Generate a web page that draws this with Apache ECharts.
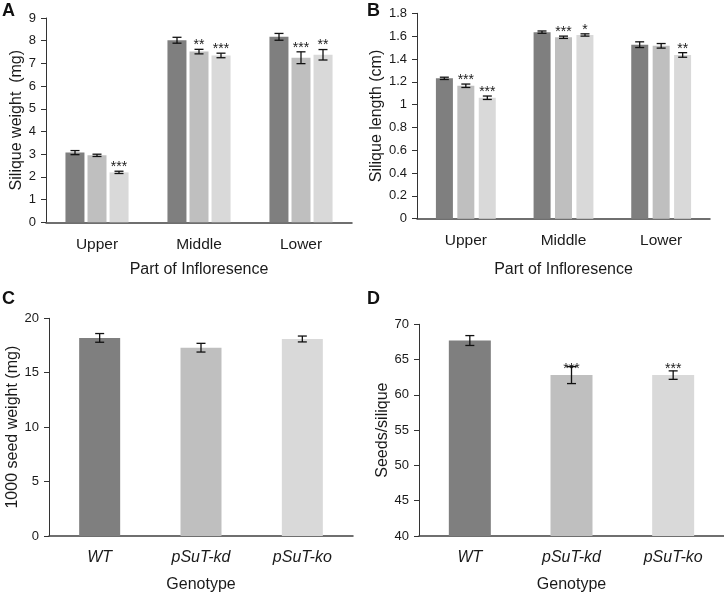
<!DOCTYPE html>
<html><head><meta charset="utf-8">
<script src="https://cdn.jsdelivr.net/npm/echarts@6/dist/echarts.min.js"></script>
<style>html,body{margin:0;padding:0;background:#fff}#c{width:724px;height:594px}</style>
</head><body><div id="c"></div>
<script>
// ---------- data ----------
const partCategories = ['Upper', 'Middle', 'Lower'];
const genotypeCategories = ['WT', 'pSuT-kd', 'pSuT-ko'];

// Panel A: silique weight (mg)
const weightWT = [3.07, 8.02, 8.17];
const weightKd = [2.95, 7.52, 7.25];
const weightKo = [2.20, 7.35, 7.38];
const weightErrWT = [0.09, 0.13, 0.15];
const weightErrKd = [0.05, 0.10, 0.26];
const weightErrKo = [0.05, 0.10, 0.23];
const weightStarsWT = ['', '', ''];
const weightStarsKd = ['', '**', '***'];
const weightStarsKo = ['***', '***', '**'];

// Panel B: silique length (cm)
const lengthWT = [1.23, 1.635, 1.525];
const lengthKd = [1.165, 1.59, 1.515];
const lengthKo = [1.06, 1.61, 1.435];
const lengthErrWT = [0.01, 0.01, 0.025];
const lengthErrKd = [0.015, 0.01, 0.02];
const lengthErrKo = [0.015, 0.01, 0.02];
const lengthStarsWT = ['', '', ''];
const lengthStarsKd = ['***', '***', ''];
const lengthStarsKo = ['***', '*', '**'];

// Panel C: 1000 seed weight (mg)
const seedWeight = [18.2, 17.3, 18.1];
const seedWeightErr = [0.4, 0.4, 0.27];
const seedWeightStars = ['', '', ''];

// Panel D: seeds per silique
const seedsPerSilique = [67.7, 62.8, 62.8];
const seedsErr = [0.7, 1.2, 0.6];
const seedsStars = ['', '***', '***'];

// ---------- styling ----------
const FONT = 'Liberation Sans, Arial, sans-serif';
const TXT = '#1a1a1a';
const C_WT = '#7f7f7f', C_KD = '#bfbfbf', C_KO = '#d9d9d9';

function errSeries(xi, yi, means, errs, stars, offset, starMode) {
  return {
    type: 'custom', xAxisIndex: xi, yAxisIndex: yi, z: 5, silent: true,
    data: means.map((m, i) => [i, m, errs[i]]),
    renderItem: function (params, api) {
      const idx = api.value(0), m = api.value(1), e = api.value(2);
      const cx = api.coord([idx, m])[0] + offset;
      const top = api.coord([idx, m + e])[1];
      const bot = api.coord([idx, m - e])[1];
      const barTop = api.coord([idx, m])[1];
      const cap = 4.5;
      const st = { stroke: '#111', lineWidth: 1.3 };
      const children = [
        { type: 'line', shape: { x1: cx, y1: top, x2: cx, y2: bot }, style: st },
        { type: 'line', shape: { x1: cx - cap, y1: top, x2: cx + cap, y2: top }, style: st },
        { type: 'line', shape: { x1: cx - cap, y1: bot, x2: cx + cap, y2: bot }, style: st }
      ];
      const s = stars[params.dataIndex];
      if (s) {
        const y = starMode === 'bar' ? barTop + 1 : top + 3;
        children.push({ type: 'text', style: { text: s, x: cx, y: y, align: 'center', verticalAlign: 'bottom', font: '14px ' + FONT, fill: TXT } });
      }
      return { type: 'group', children: children };
    }
  };
}

function yAxis(gi, min, max, interval, name, gap) {
  return {
    type: 'value', gridIndex: gi, min: min, max: max, interval: interval,
    name: name, nameLocation: 'middle', nameGap: gap,
    nameTextStyle: { fontFamily: FONT, fontSize: 16, color: TXT },
    axisLine: { show: true, lineStyle: { color: '#333', width: 1 } },
    axisTick: { show: true, length: 5, lineStyle: { color: '#333' } },
    splitLine: { show: false },
    axisLabel: { fontFamily: FONT, fontSize: 13, color: TXT, margin: 10 }
  };
}
function xAxis(gi, cats, name, italic, gap) {
  return {
    type: 'category', gridIndex: gi, data: cats,
    name: name, nameLocation: 'middle', nameGap: gap,
    nameTextStyle: { fontFamily: FONT, fontSize: 16, color: TXT },
    axisLine: { show: true, lineStyle: { color: '#404040', width: 1.5 } },
    axisTick: { show: false },
    axisLabel: { fontFamily: FONT, fontSize: italic ? 16 : 15.5, color: TXT, margin: 14, fontStyle: italic ? 'italic' : 'normal' }
  };
}
function bar(xi, yi, data, color, bw, gap) {
  return { type: 'bar', xAxisIndex: xi, yAxisIndex: yi, data: data, barWidth: bw, barGap: gap,
    itemStyle: { color: color }, silent: true };
}

const option = {
  animation: false,
  backgroundColor: '#fff',
  textStyle: { fontFamily: FONT },
  grid: [
    { left: 46, top: 18, width: 306, height: 204.3 },
    { left: 417, top: 13.3, width: 293, height: 205.4 },
    { left: 49, top: 318.3, width: 304, height: 219.4 },
    { left: 419, top: 324.3, width: 305, height: 213.4 }
  ],
  xAxis: [
    xAxis(0, partCategories, 'Part of Infloresence', false, 39.5),
    xAxis(1, partCategories, 'Part of Infloresence', false, 43),
    xAxis(2, genotypeCategories, 'Genotype', true, 41),
    xAxis(3, genotypeCategories, 'Genotype', true, 41)
  ],
  yAxis: [
    yAxis(0, 0, 9, 1, 'Silique weight  (mg)', 21),
    yAxis(1, 0, 1.8, 0.2, 'Silique length (cm)', 29),
    yAxis(2, 0, 20, 5, '1000 seed weight (mg)', 23),
    yAxis(3, 40, 70, 5, 'Seeds/silique', 28)
  ],
  graphic: [
    { type: 'text', left: 2, top: 2, style: { text: 'A', font: 'bold 18px ' + FONT, fill: '#111' } },
    { type: 'text', left: 367, top: 2, style: { text: 'B', font: 'bold 18px ' + FONT, fill: '#111' } },
    { type: 'text', left: 2, top: 290, style: { text: 'C', font: 'bold 18px ' + FONT, fill: '#111' } },
    { type: 'text', left: 367, top: 290, style: { text: 'D', font: 'bold 18px ' + FONT, fill: '#111' } }
  ],
  series: [
    bar(0, 0, weightWT, C_WT, 19, '16%'),
    bar(0, 0, weightKd, C_KD, 19, '16%'),
    bar(0, 0, weightKo, C_KO, 19, '16%'),
    errSeries(0, 0, weightWT, weightErrWT, weightStarsWT, -22, 'err'),
    errSeries(0, 0, weightKd, weightErrKd, weightStarsKd, 0, 'err'),
    errSeries(0, 0, weightKo, weightErrKo, weightStarsKo, 22, 'err'),

    bar(1, 1, lengthWT, C_WT, 17, '26%'),
    bar(1, 1, lengthKd, C_KD, 17, '26%'),
    bar(1, 1, lengthKo, C_KO, 17, '26%'),
    errSeries(1, 1, lengthWT, lengthErrWT, lengthStarsWT, -21.5, 'err'),
    errSeries(1, 1, lengthKd, lengthErrKd, lengthStarsKd, 0, 'err'),
    errSeries(1, 1, lengthKo, lengthErrKo, lengthStarsKo, 21.5, 'err'),

    { type: 'bar', xAxisIndex: 2, yAxisIndex: 2, barWidth: 41, silent: true,
      data: seedWeight.map((v, i) => ({ value: v, itemStyle: { color: [C_WT, C_KD, C_KO][i] } })) },
    errSeries(2, 2, seedWeight, seedWeightErr, seedWeightStars, 0, 'err'),

    { type: 'bar', xAxisIndex: 3, yAxisIndex: 3, barWidth: 42, silent: true,
      data: seedsPerSilique.map((v, i) => ({ value: v, itemStyle: { color: [C_WT, C_KD, C_KO][i] } })) },
    errSeries(3, 3, seedsPerSilique, seedsErr, seedsStars, 0, 'bar')
  ]
};

const chart = echarts.init(document.getElementById('c'), null, { renderer: 'canvas' });
chart.setOption(option);
</script>
</body></html>
